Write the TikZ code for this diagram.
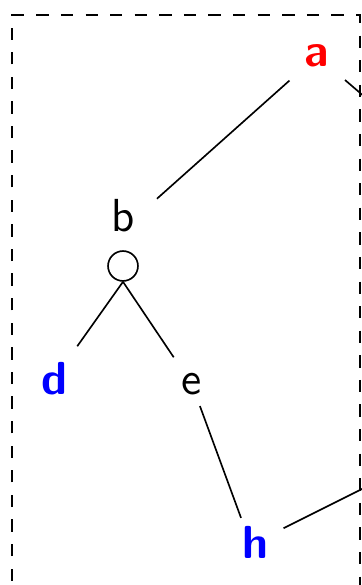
\documentclass[tikz,border=0pt]{standalone}
\usepackage{fontspec}
\begin{document}
\begin{tikzpicture}[x=0.244pt,y=-0.244pt, line width=0.4pt,
  lbl/.style={font=\fontsize{11.3}{13}\selectfont\sffamily, inner sep=0pt},
  key/.style={font=\fontsize{11.3}{13}\selectfont\sffamily\bfseries, inner sep=0pt},
  joint/.style={draw, circle, minimum size=7.3pt, inner sep=0pt}]
\useasboundingbox (0,0) rectangle (362,585);
\clip (0,0) rectangle (362,585);
\draw[dashed] (12,605.4) -- (12,15) -- (360,15) -- (360,605.4);
\node[key, text=red] (a) at (317,56) {a};
\node[lbl] (b) at (123,216) {b};
\node[joint] (c) at (123,266) {};
\node[key, text=blue] (d) at (54,379) {d};
\node[lbl] (e) at (192,384.5) {e};
\node[key, text=blue] (h) at (255,542.5) {h};
\coordinate (ar) at (429,152);
\coordinate (hr) at (380,480);
\draw[shorten <=9pt, shorten >=11.1pt] (a.center) -- ([yshift=-3.17pt]b.center);
\draw[shorten <=9pt] (a.center) -- (ar);
\draw[shorten >=9.8pt] (c.south) -- (d.center);
\draw[shorten >=8pt] (c.south) -- (e.center);
\draw[shorten <=5.6pt, shorten >=6.4pt] (e.center) -- ([xshift=-1.2pt]h.center);
\draw[shorten <=7.8pt] (h.center) -- (hr);
\end{tikzpicture}
\end{document}
